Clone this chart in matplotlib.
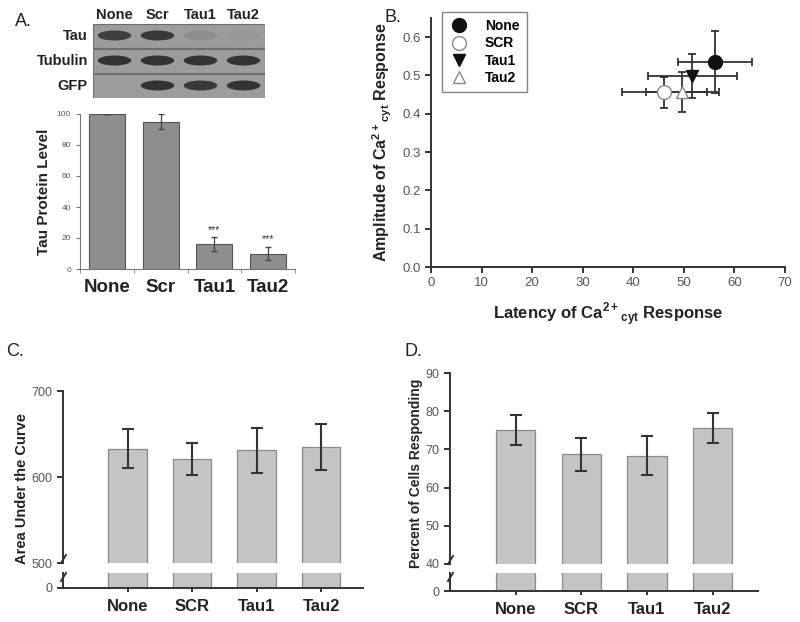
import numpy as np
import matplotlib
matplotlib.use('Agg')
import matplotlib.pyplot as plt
from matplotlib.patches import Rectangle, Ellipse
from matplotlib.lines import Line2D

plt.rcParams['font.family'] = ['Liberation Sans', 'DejaVu Sans']
plt.rcParams['mathtext.fontset'] = 'custom'
plt.rcParams['mathtext.rm'] = 'Liberation Sans'
plt.rcParams['mathtext.bf'] = 'Liberation Sans:bold'

W, H = 800, 622

# ---- data ----
lanes = ['None', 'Scr', 'Tau1', 'Tau2']
blot_rows = ['Tau', 'Tubulin', 'GFP']
tau_band = [0.85, 0.9, 0.12, 0.04]
tubulin_band = [0.95, 0.95, 0.95, 0.95]
gfp_band = [0.0, 0.95, 0.9, 0.95]

tau_level = [100, 95, 16, 10]
tau_level_err = [0, 5, 4.5, 4.5]
tau_sig = ['', '', '***', '***']

groups = ['None', 'SCR', 'Tau1', 'Tau2']
latency = [56.2, 46.1, 51.7, 49.7]
latency_err = [7.3, 8.4, 8.8, 7.2]
amplitude = [0.535, 0.456, 0.498, 0.457]
amplitude_err = [0.081, 0.041, 0.057, 0.053]

auc = [633, 621, 631, 635]
auc_err = [22.5, 19, 26, 27]

pct_resp = [75.0, 68.7, 68.3, 75.5]
pct_resp_err = [3.9, 4.25, 5.1, 3.9]

fig = plt.figure(figsize=(W / 100, H / 100), dpi=100)
fig.patch.set_facecolor('white')


def ax_px(x0, y0, x1, y1):
    return fig.add_axes([x0 / W, 1 - y1 / H, (x1 - x0) / W, (y1 - y0) / H])


def style_axis(ax, spine_col='#333333', lw=1.4):
    for s in ['top', 'right']:
        ax.spines[s].set_visible(False)
    for s in ['left', 'bottom']:
        ax.spines[s].set_color(spine_col)
        ax.spines[s].set_linewidth(lw)
    ax.tick_params(colors=spine_col, labelcolor='#555555', width=lw)


# ---- panel A: blot ----
fig.text(15 / W, 1 - 22 / H, 'A.', fontsize=13, va='center', ha='left', color='#222222')
axb = ax_px(93, 23, 265, 98)
axb.set_xlim(-0.5, 3.5)
axb.set_ylim(3, 0)
axb.axis('off')
for r, band in enumerate([tau_band, tubulin_band, gfp_band]):
    axb.add_patch(Rectangle((-0.5, r + 0.02), 4, 0.96, facecolor='#9c9c9c',
                            edgecolor='#6e6e6e', lw=0.8))
    for i, v in enumerate(band):
        if v > 0:
            axb.add_patch(Ellipse((i, r + 0.5), 0.78, 0.4, facecolor='#2e2e2e',
                                  edgecolor='none', alpha=v))
    fig.text(88 / W, 1 - (36 + 25 * r) / H, blot_rows[r], fontsize=10.5,
             fontweight='bold', ha='right', va='center', color='#222222')
for i, lab in enumerate(lanes):
    axb.text(i, -0.05, lab, fontsize=10.5, fontweight='bold', ha='center', va='bottom',
             color='#222222')

# ---- panel A: bar chart ----
axa = ax_px(80, 114, 295, 269)
x = np.arange(len(lanes))
axa.bar(x, tau_level, width=0.67, color='#8e8e8e', edgecolor='#555555', lw=0.8,
        yerr=tau_level_err, error_kw=dict(ecolor='#444444', elinewidth=0.9, capsize=2))
for i, s in enumerate(tau_sig):
    if s:
        axa.text(i, tau_level[i] + tau_level_err[i] + 1.5, s, ha='center', va='bottom',
                 fontsize=7.5, color='#333333')
axa.set_xlim(-0.5, 3.5)
axa.set_ylim(0, 100)
axa.set_yticks([0, 20, 40, 60, 80, 100])
axa.set_xticks(x)
axa.set_xticklabels(lanes, fontsize=13.5, fontweight='bold', color='#222222')
axa.set_xticks(np.arange(-0.5, 4, 1), minor=True)
style_axis(axa, spine_col='#777777', lw=0.8)
axa.tick_params(axis='x', which='major', length=0, pad=7, labelcolor='#222222')
axa.tick_params(axis='x', which='minor', length=3, color='#777777')
axa.tick_params(axis='y', labelsize=6, length=3)
axa.set_ylabel('Tau Protein Level', fontsize=11, fontweight='bold', color='#222222',
               labelpad=4)

# ---- panel B: scatter ----
fig.text(384 / W, 1 - 17 / H, 'B.', fontsize=13, va='center', ha='left', color='#222222')
axs = ax_px(431, 18, 785, 267)
markers = ['o', 'o', 'v', '^']
faces = ['#111111', 'white', '#111111', 'white']
edges = ['#111111', '#888888', '#111111', '#888888']
sizes = [10, 10, 9, 9]
for i in range(len(groups)):
    axs.errorbar(latency[i], amplitude[i], xerr=latency_err[i], yerr=amplitude_err[i],
                 fmt='none', ecolor='#333333', elinewidth=1.3, capsize=3, capthick=1.3)
for i in range(len(groups)):
    axs.plot(latency[i], amplitude[i], marker=markers[i], ms=sizes[i], mfc=faces[i],
             mec=edges[i], mew=1, ls='none', label=groups[i])
axs.set_xlim(0, 70)
axs.set_ylim(0, 0.65)
axs.set_xticks(np.arange(0, 71, 10))
axs.set_yticks(np.arange(0, 0.61, 0.1))
axs.set_yticklabels(['%.1f' % v for v in np.arange(0, 0.61, 0.1)])
style_axis(axs)
axs.tick_params(labelsize=9.5, length=4, direction='out')
axs.set_xlabel('Latency of Ca$^{\\mathbf{2+}}$$_{\\mathbf{cyt}}$ Response', fontsize=12,
               fontweight='bold', color='#222222', labelpad=8)
axs.set_ylabel('Amplitude of Ca$^{\\mathbf{2+}}$$_{\\mathbf{cyt}}$ Response', fontsize=11.5,
               fontweight='bold', color='#222222', labelpad=6)
leg = axs.legend(loc='upper left', bbox_to_anchor=(442 / W, 1 - 12 / H),
                 bbox_transform=fig.transFigure, frameon=True, fancybox=False,
                 prop=dict(weight='bold', size=10), handletextpad=1.2, borderpad=0.5,
                 borderaxespad=0, labelspacing=0.25, handlelength=1.4)
leg.get_frame().set_edgecolor('#666666')
leg.get_frame().set_linewidth(1.0)


# ---- panels C, D: broken-axis bars ----
def broken_bars(x0, x1, ytop, ybreak, ylow0, ylow1, vals, errs, ylim_hi, yticks, ylabel,
                letter, letter_x, xlim_hi, label_x, label_y, label_size):
    xs = np.arange(len(groups))
    ax_hi = ax_px(x0, ytop, x1, ybreak)
    ax_lo = ax_px(x0, ylow0, x1, ylow1)
    for ax in (ax_hi, ax_lo):
        ax.bar(xs, vals, width=0.6, color='#c4c4c4', edgecolor='#8a8a8a', lw=0.9)
        ax.set_xlim(-1.0, xlim_hi)
    ax_hi.errorbar(xs, vals, yerr=errs, fmt='none', ecolor='#333333', elinewidth=1.5,
                   capsize=4, capthick=1.5)
    ax_hi.set_ylim(*ylim_hi)
    ax_hi.set_yticks(yticks)
    ax_lo.set_ylim(0, 30)
    ax_lo.set_yticks([0])
    style_axis(ax_hi)
    style_axis(ax_lo)
    ax_hi.spines['bottom'].set_visible(False)
    ax_hi.tick_params(axis='x', bottom=False, labelbottom=False)
    ax_hi.tick_params(axis='y', labelsize=9, length=4)
    ax_lo.tick_params(axis='y', labelsize=9, length=4)
    ax_lo.set_xticks(xs)
    ax_lo.set_xticklabels(groups, fontsize=12, fontweight='bold')
    ax_lo.tick_params(axis='x', length=3, pad=5, labelcolor='#222222')
    # break marks on the left spine
    for yy in (ybreak - 4, ylow0 + 4):
        fig.add_artist(Line2D([(x0 - 2) / W, (x0 + 3) / W],
                              [1 - (yy + 4) / H, 1 - (yy - 4) / H],
                              color='#333333', lw=1.4))
    fig.text(label_x / W, 1 - label_y / H, ylabel, rotation=90,
             fontsize=label_size, fontweight='bold', ha='center', va='center',
             color='#222222')
    fig.text(letter_x / W, 1 - 352 / H, letter, fontsize=13, va='center', ha='left',
             color='#222222')


broken_bars(63, 363, 391, 563, 573, 588, auc, auc_err, (500, 700), [500, 600, 700],
            'Area Under the Curve', 'C.', 6, 3.65, 22, 488, 10.5)
broken_bars(450, 758, 373, 564, 573, 591, pct_resp, pct_resp_err, (40, 90),
            [40, 50, 60, 70, 80, 90], 'Percent of Cells Responding', 'D.', 405, 3.69, 416,
            473, 10)

fig.savefig('out.png', dpi=100)
